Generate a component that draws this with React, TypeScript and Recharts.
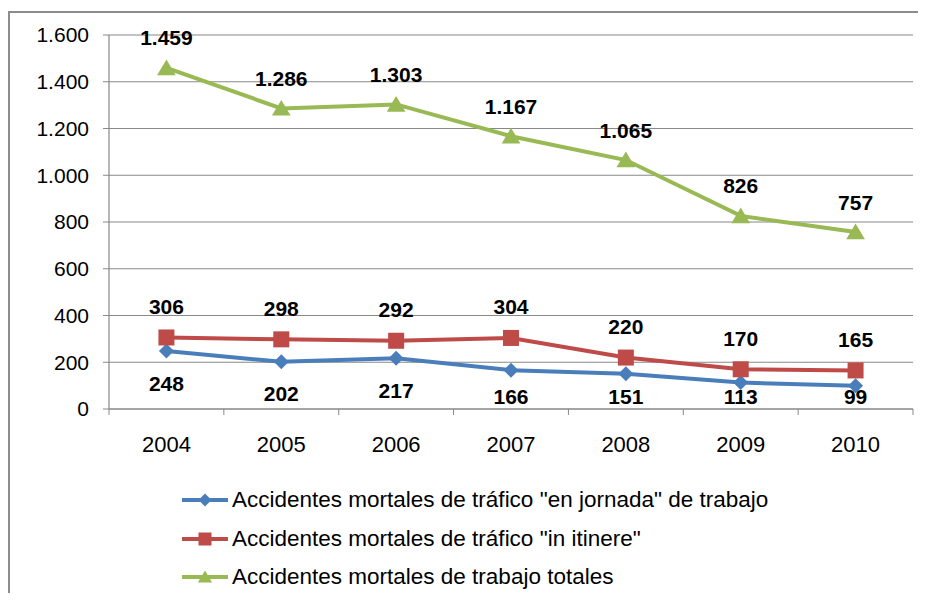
import React from 'react';
import { LineChart, Line, XAxis, YAxis, CartesianGrid, LabelList } from 'recharts';

const years = ['2004', '2005', '2006', '2007', '2008', '2009', '2010'];
const jornada = [248, 202, 217, 166, 151, 113, 99];
const itinere = [306, 298, 292, 304, 220, 170, 165];
const totales = [1459, 1286, 1303, 1167, 1065, 826, 757];
const yTicks = [0, 200, 400, 600, 800, 1000, 1200, 1400, 1600];
const seriesNames = [
  'Accidentes mortales de tráfico "en jornada" de trabajo',
  'Accidentes mortales de tráfico "in itinere"',
  'Accidentes mortales de trabajo totales',
];

const data = years.map((year, i) => ({
  year,
  jornada: jornada[i],
  itinere: itinere[i],
  totales: totales[i],
}));

const BLUE = '#4A7EBB';
const RED = '#BE4B48';
const GREEN = '#98B954';
const GRID = '#888888';
const FONT = '"Liberation Sans", Arial, sans-serif';

const fmt = (v: number) => String(v).replace(/\B(?=(\d{3})+(?!\d))/g, '.');

type Shape = 'diamond' | 'square' | 'triangle';

const Marker = ({ cx, cy, shape, color, s }: { cx: number; cy: number; shape: Shape; color: string; s: number }) => {
  if (shape === 'diamond') {
    return <polygon points={`${cx},${cy - s} ${cx + s},${cy} ${cx},${cy + s} ${cx - s},${cy}`} fill={color} />;
  }
  if (shape === 'square') {
    return <rect x={cx - s} y={cy - s} width={2 * s} height={2 * s} fill={color} />;
  }
  return <polygon points={`${cx},${cy - s} ${cx + s * 1.1},${cy + s * 0.85} ${cx - s * 1.1},${cy + s * 0.85}`} fill={color} />;
};

const makeDot = (shape: Shape, color: string, s: number) => (props: any) => {
  const { cx, cy, index } = props;
  if (cx == null || cy == null) return <g key={`d-${index}`} />;
  return (
    <g key={`${shape}-${index}`}>
      <Marker cx={cx} cy={cy} shape={shape} color={color} s={s} />
    </g>
  );
};

const PLOT_BOTTOM_LABEL_LIMIT = 388;

const makeLabel = (dy: number, clamp: boolean) => (props: any) => {
  const { x, y, value, index } = props;
  if (x == null || y == null) return null;
  let ly = y + dy;
  if (clamp) ly = Math.min(ly, PLOT_BOTTOM_LABEL_LIMIT);
  return (
    <text
      key={`l-${index}`}
      x={x}
      y={ly}
      textAnchor="middle"
      dominantBaseline="central"
      fontFamily={FONT}
      fontWeight="bold"
      fontSize={21}
      fill="#000"
    >
      {fmt(value)}
    </text>
  );
};

// Category tick: label at band centre, tick marks at the band boundaries
const CategoryTick = (props: any) => {
  const { x, y, payload, index, visibleTicksCount, width } = props;
  const half = payload && payload.offset ? payload.offset : width / visibleTicksCount / 2;
  const axisY = y - 27;
  return (
    <g>
      <line x1={x - half} y1={axisY} x2={x - half} y2={axisY + 6} stroke={GRID} />
      {index === visibleTicksCount - 1 && (
        <line x1={x + half} y1={axisY} x2={x + half} y2={axisY + 6} stroke={GRID} />
      )}
      <text x={x} y={y} dy="0.71em" textAnchor="middle" fontFamily={FONT} fontSize={22} fill="#000">
        {payload.value}
      </text>
    </g>
  );
};

const series: { key: string; name: string; color: string; shape: Shape; size: number }[] = [
  { key: 'jornada', name: seriesNames[0], color: BLUE, shape: 'diamond', size: 7.5 },
  { key: 'itinere', name: seriesNames[1], color: RED, shape: 'square', size: 8 },
  { key: 'totales', name: seriesNames[2], color: GREEN, shape: 'triangle', size: 8.5 },
];

export default function App() {
  return (
    <div style={{ position: 'relative', width: 918, height: 585 }}>
      <div
        style={{
          position: 'absolute',
          left: 0,
          top: 3,
          width: 918,
          height: 582,
          borderTop: '2px solid #8c8c8c',
          borderLeft: '2px solid #8c8c8c',
          boxSizing: 'border-box',
        }}
      />
      <LineChart width={918} height={585} data={data} margin={{ top: 27, right: 13, left: 0, bottom: 112 }}>
        <CartesianGrid horizontal vertical={false} stroke={GRID} strokeWidth={1.2} />
        <XAxis
          dataKey="year"
          scale="band"
          tickLine={false}
          axisLine={{ stroke: GRID, strokeWidth: 1.2 }}
          tickSize={6}
          tickMargin={21}
          height={72}
          interval={0}
          tick={<CategoryTick />}
        />
        <YAxis
          width={101}
          domain={[0, 1600]}
          ticks={yTicks}
          tickFormatter={fmt}
          tickSize={6}
          tickMargin={14}
          axisLine={{ stroke: GRID, strokeWidth: 1.2 }}
          tickLine={{ stroke: GRID }}
          tick={{ fontSize: 21, fill: '#000', fontFamily: FONT }}
          interval={0}
        />
        {series.map((s, i) => (
          <Line
            key={s.key}
            dataKey={s.key}
            name={s.name}
            stroke={s.color}
            strokeWidth={4}
            dot={makeDot(s.shape, s.color, s.size)}
            activeDot={false}
            isAnimationActive={false}
          >
            <LabelList
              dataKey={s.key}
              content={i === 0 ? makeLabel(32, true) : i === 1 ? makeLabel(-31, false) : makeLabel(-30, false)}
            />
          </Line>
        ))}
      </LineChart>
      <div
        style={{
          position: 'absolute',
          left: 174,
          top: 473,
          fontFamily: FONT,
          fontSize: 22.5,
          color: '#000',
        }}
      >
        {series.map((s) => (
          <div key={s.key} style={{ height: 38.5, display: 'flex', alignItems: 'center' }}>
            <svg width={48} height={20} style={{ marginRight: 2 }}>
              <line x1={0} y1={10} x2={46} y2={10} stroke={s.color} strokeWidth={4} />
              <Marker cx={23} cy={10} shape={s.shape} color={s.color} s={6.5} />
            </svg>
            <span style={{ whiteSpace: 'nowrap' }}>{s.name}</span>
          </div>
        ))}
      </div>
    </div>
  );
}
